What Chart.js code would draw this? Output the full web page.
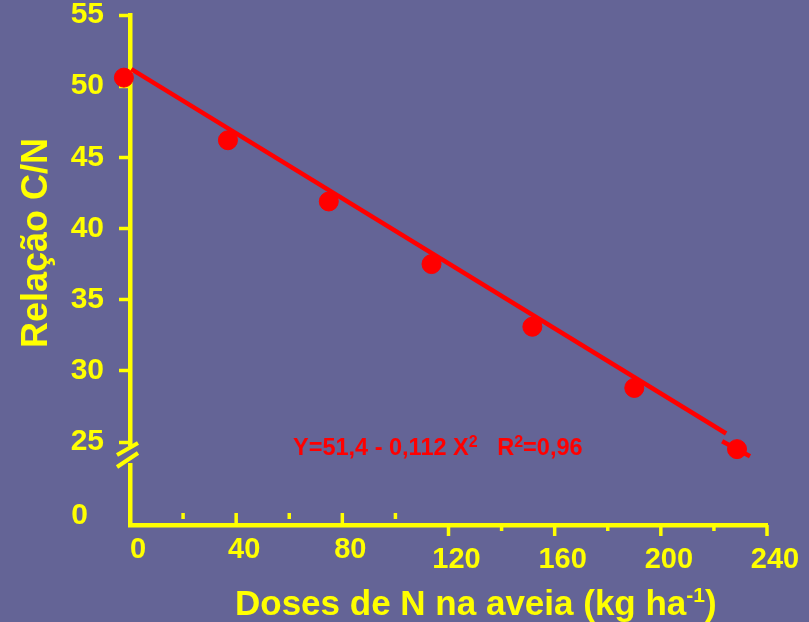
<!DOCTYPE html>
<html>
<head>
<meta charset="utf-8">
<script src="https://cdn.jsdelivr.net/npm/chart.js@4"></script>
<style>
  html, body { margin: 0; padding: 0; background: #646496; }
  #wrap { width: 809px; height: 622px; }
</style>
</head>
<body>
<div id="wrap"><canvas id="myChart"></canvas></div>
<script>
// dados
const doses = [-2.3, 36.9, 74.9, 113.6, 151.6, 190, 228.7];
const relacaoCN = [50.6, 46.2, 41.9, 37.5, 33.1, 28.8, 24.5];
const ajusteX = [0.5, 224.6];
const ajusteY = [51.2, 25.6];
const trechoX = [223.1, 233.6];
const trechoY = [25.05, 24.0];
const yTicks = [25, 30, 35, 40, 45, 50, 55];
const yZeroLabel = '0';
const xMajor = [0, 40, 80, 120, 160, 200, 240];
const xMinor = [20, 60, 100, 140, 180, 220];
const equacao = [['Y=51,4 - 0,112 X', false], ['2', true], ['   R', false], ['2', true], ['=0,96', false]];
const tituloX = [['Doses de N na aveia (kg ha', false], ['-1', true], [')', false]];
const tituloY = 'Relação C/N';

const BG = '#646496';
const YEL = '#ffff00';
const RED = '#ff0000';
const FONT = '"Liberation Sans", Arial, sans-serif';

function pts(xs, ys) { return xs.map((x, i) => ({ x: x, y: ys[i] })); }

function richText(ctx, parts, x, y, size, supScale) {
    parts.forEach(([t, sup]) => {
        ctx.font = 'bold ' + (sup ? Math.round(size * supScale) : size) + 'px ' + FONT;
        ctx.fillText(t, x, sup ? y - size * 0.36 : y);
        x += ctx.measureText(t).width;
    });
}

const decor = {
    id: 'decor',
    beforeDraw(chart) {
        const c = chart.ctx;
        c.save();
        c.fillStyle = BG;
        c.fillRect(0, 0, chart.width, chart.height);
        c.restore();
    },
    afterDraw(chart) {
        const c = chart.ctx;
        const xs = chart.scales.x, ys = chart.scales.y;
        const a = chart.chartArea;
        c.save();
        c.strokeStyle = YEL;
        c.fillStyle = YEL;
        c.lineWidth = 3.5;
        c.lineCap = 'butt';

        // marcas do eixo x
        xMajor.forEach(v => {
            const px = xs.getPixelForValue(v);
            c.beginPath();
            if (v <= 80) { c.moveTo(px, a.bottom - 12); c.lineTo(px, a.bottom); }
            else { c.moveTo(px, a.bottom); c.lineTo(px, a.bottom + 11); }
            c.stroke();
        });
        xMinor.forEach(v => {
            const px = xs.getPixelForValue(v);
            c.beginPath();
            if (v <= 100) { c.moveTo(px, a.bottom - 12); c.lineTo(px, a.bottom - 6); }
            else { c.moveTo(px, a.bottom); c.lineTo(px, a.bottom + 6); }
            c.stroke();
        });

        // rotulos do eixo x
        c.font = 'bold 29px ' + FONT;
        c.textAlign = 'center';
        c.textBaseline = 'middle';
        xMajor.forEach(v => {
            const px = xs.getPixelForValue(v) + 8;
            c.fillText(String(v), px, v <= 80 ? a.bottom + 25 : a.bottom + 35);
        });

        // quebra do eixo y
        const yb = ys.getPixelForValue(25);
        c.fillStyle = BG;
        c.fillRect(a.left - 4, yb + 4, 8, 17);
        c.fillStyle = YEL;
        c.lineWidth = 4;
        c.beginPath();
        c.moveTo(a.left - 13, yb + 13); c.lineTo(a.left + 8, yb + 1);
        c.moveTo(a.left - 13, yb + 25); c.lineTo(a.left + 8, yb + 11);
        c.stroke();

        // rotulo 0 do eixo y
        c.font = 'bold 30px ' + FONT;
        c.textAlign = 'right';
        c.fillText(yZeroLabel, a.left - 42, a.bottom - 9);

        // titulo y
        c.save();
        c.translate(37, 243);
        c.rotate(-Math.PI / 2);
        c.textAlign = 'center';
        c.textBaseline = 'middle';
        c.font = 'bold 36px ' + FONT;
        c.fillText(tituloY, 0, 0);
        c.restore();

        // titulo x
        c.textAlign = 'left';
        c.textBaseline = 'alphabetic';
        richText(c, tituloX, 235, 615, 35, 0.6);

        // equacao
        c.fillStyle = RED;
        richText(c, equacao, 293, 455, 23.5, 0.7);
        c.restore();
    }
};

const ctx = document.getElementById('myChart').getContext('2d');
new Chart(ctx, {
    type: 'scatter',
    data: {
        datasets: [{
            type: 'line',
            data: pts(ajusteX, ajusteY),
            borderColor: RED,
            borderWidth: 4.5,
            pointRadius: 0,
            clip: false
        }, {
            type: 'line',
            data: pts(trechoX, trechoY),
            borderColor: RED,
            borderWidth: 4.5,
            pointRadius: 0,
            clip: false
        }, {
            data: pts(doses, relacaoCN),
            backgroundColor: RED,
            borderColor: RED,
            pointRadius: 9.5,
            clip: false
        }]
    },
    plugins: [decor],
    options: {
        responsive: true,
        maintainAspectRatio: false,
        animation: false,
        layout: { padding: { top: 15, right: 42, left: 0, bottom: 0 } },
        plugins: {
            legend: { display: false },
            tooltip: { enabled: false }
        },
        scales: {
            x: {
                type: 'linear',
                min: 0,
                max: 240,
                ticks: { display: false },
                grid: { display: false },
                border: { display: true, color: YEL, width: 4.5 },
                afterFit(s) { s.height = 97; s.paddingLeft = 0; s.paddingRight = 0; }
            },
            y: {
                min: 19.17,
                max: 55,
                afterBuildTicks(s) { s.ticks = yTicks.map(v => ({ value: v })); },
                ticks: {
                    color: YEL,
                    padding: 15,
                    font: { family: FONT, size: 30, weight: 'bold' }
                },
                grid: {
                    drawOnChartArea: false,
                    drawTicks: true,
                    tickLength: 11,
                    tickWidth: 3.5,
                    tickColor: YEL
                },
                border: { display: true, color: YEL, width: 4.5 },
                afterFit(s) { s.width = 130; s.paddingTop = 0; s.paddingBottom = 0; }
            }
        }
    }
});
</script>
</body>
</html>
